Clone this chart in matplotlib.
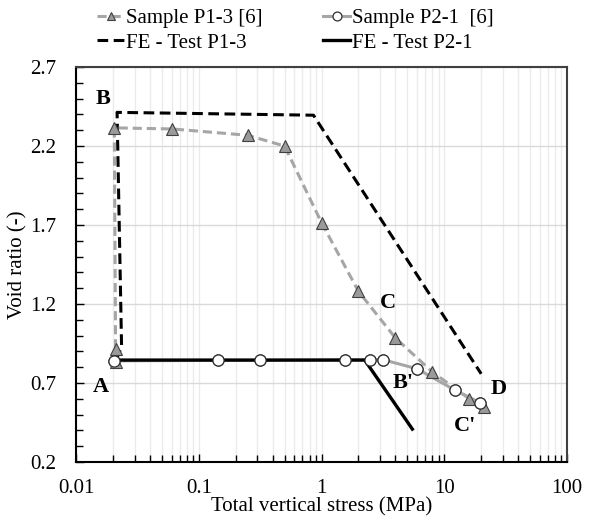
import matplotlib.pyplot as plt
from matplotlib.ticker import LogLocator, MultipleLocator, FixedLocator

plt.rcParams['font.family'] = ['Liberation Serif', 'DejaVu Serif']

# Sample P1-3 [6]
p13_stress = [0.021, 0.021, 0.0205, 0.061, 0.25, 0.5, 1.0, 2.0, 4.0, 8.0, 16.0, 21.0]
p13_void = [0.83, 0.915, 2.315, 2.308, 2.268, 2.2, 1.715, 1.28, 0.985, 0.77, 0.60, 0.55]

# Sample P2-1 [6]
p21_stress = [0.0205, 0.144, 0.313, 1.55, 2.48, 3.15, 6.0, 12.2, 19.6]
p21_void = [0.84, 0.843, 0.843, 0.847, 0.847, 0.848, 0.79, 0.655, 0.575]

# FE - Test P1-3
fe13_stress = [0.0212, 0.0235, 0.0216, 0.86, 20.0]
fe13_void = [0.845, 0.93, 2.413, 2.395, 0.758]

# FE - Test P2-1
fe21_stress = [0.021, 2.25, 5.5]
fe21_void = [0.845, 0.845, 0.408]

labels = ['A', 'B', 'C', "B'", "C'", 'D']
label_x = [0.0158, 0.0165, 3.5, 4.6, 14.7, 28.0]
label_y = [0.675, 2.497, 1.206, 0.70, 0.425, 0.66]

fig = plt.figure(figsize=(5.94, 5.22), dpi=100)
ax = fig.add_axes([0.128, 0.115, 0.8265, 0.7566])

l1, = ax.plot(p13_stress, p13_void, color='#a6a6a6', ls=(0, (3, 1.6)), lw=2.2,
              marker='^', ms=8, mfc='#9a9a9a', mec='#404040', mew=0.8,
              label='Sample P1-3 [6]', zorder=3)
l2, = ax.plot(p21_stress, p21_void, color='#a6a6a6', lw=2.2,
              marker='o', ms=8, mfc='white', mec='#303030', mew=0.9,
              label='Sample P2-1  [6]', zorder=1.5)
ax.plot(p21_stress, p21_void, ls='none', marker='o', ms=8, mfc='white',
        mec='#303030', mew=0.9, zorder=4)
l3, = ax.plot(fe13_stress, fe13_void, color='black', ls=(0, (3.5, 1.8)), lw=2.2,
              label='FE - Test P1-3', zorder=2)
l4, = ax.plot(fe21_stress, fe21_void, color='black', lw=2.4,
              label='FE - Test P2-1', zorder=2)

for t, x, y in zip(labels, label_x, label_y):
    ax.text(x, y, t, fontsize=16, fontweight='bold', ha='center', va='center')

ax.set_xscale('log')
ax.set_xlim(0.01, 100)
ax.set_ylim(0.2, 2.7)
ax.xaxis.set_minor_locator(LogLocator(base=10, subs=range(2, 10)))
ax.set_xticks([0.01, 0.1, 1, 10, 100])
ax.set_xticklabels(['0.01', '0.1', '1', '10', '100'])
ax.yaxis.set_major_locator(FixedLocator([0.2, 0.7, 1.2, 1.7, 2.2, 2.7]))
ax.yaxis.set_minor_locator(MultipleLocator(0.1))
ax.set_yticklabels(['0.2', '0.7', '1.2', '1.7', '2.2', '2.7'])

ax.grid(True, which='major', axis='y', color='#d9d9d9', lw=1)
ax.grid(True, which='both', axis='x', color='#ebebeb', lw=1)
ax.set_axisbelow(True)

ax.tick_params(which='both', direction='in', labelsize=15, top=False, right=False)
ax.tick_params(which='major', length=6, width=1)
ax.tick_params(which='minor', length=5, width=1)
ax.tick_params(axis='y', pad=14)
ax.tick_params(axis='x', pad=12)

for s in ['left', 'bottom']:
    ax.spines[s].set_linewidth(1.5)
    ax.spines[s].set_color('black')
for s in ['top', 'right']:
    ax.spines[s].set_linewidth(1.5)
    ax.spines[s].set_color('#404040')

ax.set_xlabel('Total vertical stress (MPa)', fontsize=15, labelpad=0)
ax.set_ylabel('Void ratio (-)', fontsize=15, labelpad=2)

fig.legend(handles=[l1, l3, l2, l4], loc='upper left', bbox_to_anchor=(0.132, 1.02),
           ncol=2, frameon=False, fontsize=15, handlelength=1.3, handletextpad=0.1,
           columnspacing=2.9, labelspacing=0.25, markerscale=0.8)

fig.savefig('out.png', dpi=100)
